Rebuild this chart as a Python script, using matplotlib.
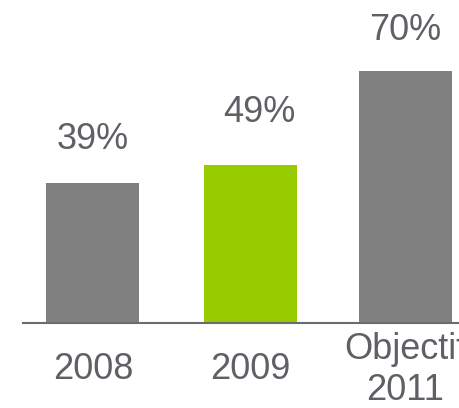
import matplotlib
matplotlib.use("Agg")
import matplotlib.pyplot as plt
import matplotlib.transforms as mtransforms

# Data
categories = ["2008", "2009", "Objectif\n2011"]
bar_heights = [39, 44, 70]          # drawn bar heights
value_labels = ["39%", "49%", "70%"]
bar_colors = ["#808080", "#99cc00", "#808080"]

# label offsets (points) above bar tops, and horizontal nudge
label_dy = [24.5, 31, 22.3]
label_dx = [0, 6.5, 0]
tick_dx_px = [-2, 1, -5]

plt.rcParams['font.family'] = ['Liberation Sans', 'DejaVu Sans']
text_color = "#5f6065"

fig = plt.figure(figsize=(4.59, 4.08), dpi=100)
ax = fig.add_axes([23/459, 85/408, (459-23)/459, 323/408])

x = [0, 1.005, 1.99]
ax.bar(x, bar_heights, width=0.592, color=bar_colors, zorder=2)

for xi, h, lab, dy, dx in zip(x, bar_heights, value_labels, label_dy, label_dx):
    ax.annotate(lab, (xi, h), xytext=(dx, dy), textcoords="offset points",
                ha="center", va="baseline", fontsize=26, color=text_color)

ax.set_xlim(-0.445, 2.333)
ax.set_ylim(0, 323/3.6)

ax.set_xticks(x)
ax.set_xticklabels(categories, fontsize=26, color=text_color, linespacing=1.2)
for t, d in zip(ax.get_xticklabels(), tick_dx_px):
    t.set_va("center")
    t.set_transform(t.get_transform() + mtransforms.Affine2D().translate(d, 0))
ax.tick_params(axis="x", length=0, pad=33.8)
ax.set_yticks([])

for s in ["top", "right", "left"]:
    ax.spines[s].set_visible(False)
ax.spines["bottom"].set_color("#6b6b72")
ax.spines["bottom"].set_linewidth(1.5)
ax.spines["bottom"].set_zorder(3)
ax.patch.set_alpha(0)

fig.savefig("out.png", dpi=100)
